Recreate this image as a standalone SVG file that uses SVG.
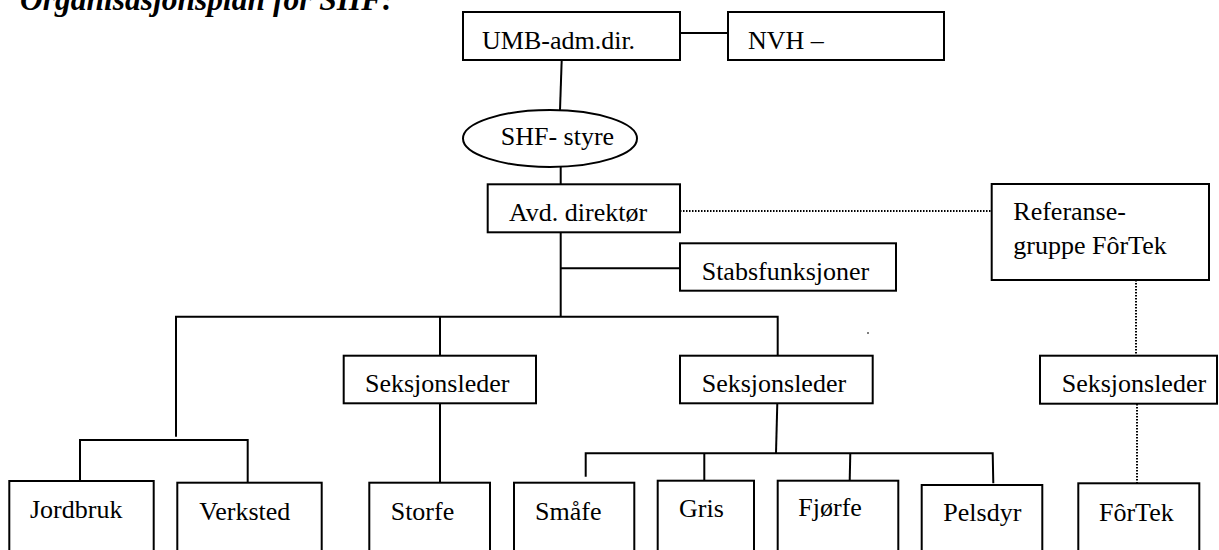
<svg xmlns="http://www.w3.org/2000/svg" width="1219" height="550" viewBox="0 0 1219 550">
<style>
.box{fill:#fff;stroke:#000;stroke-width:2}
.ln{fill:none;stroke:#000;stroke-width:2}
.dot{fill:none;stroke:#000;stroke-width:2;stroke-dasharray:1.5 1.5}
text{fill:#000}
.t{font-family:'Liberation Serif','Times New Roman',serif;font-size:26px}
.title{font-family:'Liberation Serif','Times New Roman',serif;font-size:31.5px;font-weight:bold;font-style:italic}
</style>
<rect width="1219" height="550" fill="#fff"/>
<text class="title" x="20" y="10">Organisasjonsplan for SHF:</text>
<g id="connectors">
<line class="ln" x1="680" y1="33" x2="728" y2="33"/>
<line class="ln" x1="561.7" y1="60" x2="560" y2="110"/>
<line class="ln" x1="560.7" y1="167" x2="560.7" y2="184"/>
<line class="ln" x1="560.7" y1="232" x2="560.7" y2="316.7"/>
<line class="ln" x1="560.7" y1="268.3" x2="680" y2="268.3"/>
<line class="dot" x1="680" y1="211" x2="992" y2="211"/>
<line class="dot" x1="1136" y1="280" x2="1136" y2="355.5"/>
<line class="dot" x1="1137" y1="404" x2="1137" y2="483"/>
<polyline class="ln" points="176,436.7 176,316.7 777.7,316.7 777.7,355.7"/>
<line class="ln" x1="440" y1="316.7" x2="440" y2="355.7"/>
<line class="ln" x1="440" y1="403.3" x2="440" y2="482.7"/>
<polyline class="ln" points="80,481 80,440 247.7,440 247.7,482.3"/>
<line class="ln" x1="777.3" y1="403.3" x2="776" y2="453.3"/>
<polyline class="ln" points="585.7,476.7 585.7,453.3 992.7,453.3 993.3,483.3"/>
<line class="ln" x1="704.3" y1="453.3" x2="704.3" y2="480.7"/>
<line class="ln" x1="850.3" y1="453.3" x2="849.7" y2="480.7"/>
<line x1="868" y1="332" x2="868" y2="334" stroke="#000" stroke-width="1"/>
</g>
<g id="umb"><rect class="box" x="463" y="12" width="217" height="48"/><text class="t" x="482" y="49">UMB-adm.dir.</text></g>
<g id="nvh"><rect class="box" x="728" y="12" width="216" height="48"/><text class="t" x="748" y="49">NVH –</text></g>
<g id="shf"><ellipse class="box" cx="550" cy="138.5" rx="87" ry="28.5"/><text class="t" x="500.7" y="145">SHF- styre</text></g>
<g id="avd"><rect class="box" x="487.7" y="184.3" width="192.3" height="48"/><text class="t" x="509" y="220.7">Avd. direktør</text></g>
<g id="stabs"><rect class="box" x="680" y="243.3" width="216" height="47.4"/><text class="t" x="701.7" y="280">Stabsfunksjoner</text></g>
<g id="referanse"><rect class="box" x="991.7" y="184" width="217.3" height="96"/><text class="t" x="1013.3" y="220">Referanse-</text><text class="t" x="1013.3" y="254">gruppe FôrTek</text></g>
<g id="seksjon1"><rect class="box" x="343.7" y="355.7" width="192.3" height="47.6"/><text class="t" x="365" y="391.7">Seksjonsleder</text></g>
<g id="seksjon2"><rect class="box" x="680" y="355.7" width="192.7" height="47.6"/><text class="t" x="701.7" y="391.7">Seksjonsleder</text></g>
<g id="seksjon3"><rect class="box" x="1040" y="355.7" width="177" height="48"/><text class="t" x="1061.7" y="391.7">Seksjonsleder</text></g>
<g id="jordbruk"><rect class="box" x="9.3" y="481" width="144.4" height="80"/><text class="t" x="30" y="518">Jordbruk</text></g>
<g id="verksted"><rect class="box" x="177.3" y="482.7" width="144.4" height="80"/><text class="t" x="199.3" y="520">Verksted</text></g>
<g id="storfe"><rect class="box" x="369.3" y="482.7" width="120.7" height="80"/><text class="t" x="390.7" y="520">Storfe</text></g>
<g id="smaafe"><rect class="box" x="514" y="482.7" width="120.3" height="80"/><text class="t" x="535" y="520">Småfe</text></g>
<g id="gris"><rect class="box" x="657.7" y="480.7" width="96.3" height="80"/><text class="t" x="679" y="516.7">Gris</text></g>
<g id="fjorfe"><rect class="box" x="777.7" y="480.7" width="120.6" height="80"/><text class="t" x="798.3" y="516">Fjørfe</text></g>
<g id="pelsdyr"><rect class="box" x="921.7" y="485" width="120.6" height="80"/><text class="t" x="943.3" y="520.7">Pelsdyr</text></g>
<g id="fortek"><rect class="box" x="1078.3" y="483.3" width="121" height="80"/><text class="t" x="1099" y="520.7">FôrTek</text></g>
</svg>
